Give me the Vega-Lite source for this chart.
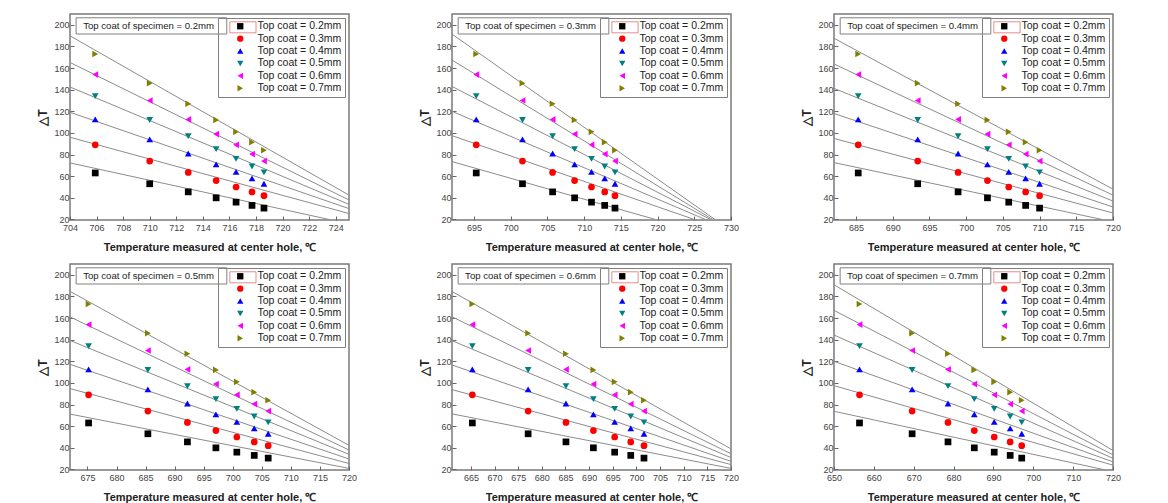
{
"$schema": "https://vega.github.io/schema/vega-lite/v6.json",
"padding": {"left": 36, "top": 13, "right": 5, "bottom": 5},
"background": "white",
"bounds": "flush",
"columns": 3,
"spacing": {"row": 44, "column": 103},
"datasets": {
"pts": [
{"p":1,"s":"Top coat = 0.2mm","T":705.9,"dT":63},{"p":1,"s":"Top coat = 0.2mm","T":710.0,"dT":53},{"p":1,"s":"Top coat = 0.2mm","T":712.9,"dT":45.5},{"p":1,"s":"Top coat = 0.2mm","T":715.0,"dT":40},{"p":1,"s":"Top coat = 0.2mm","T":716.5,"dT":36},{"p":1,"s":"Top coat = 0.2mm","T":717.7,"dT":33},{"p":1,"s":"Top coat = 0.2mm","T":718.6,"dT":30.5},
{"p":1,"s":"Top coat = 0.3mm","T":705.9,"dT":89},{"p":1,"s":"Top coat = 0.3mm","T":710.0,"dT":74},{"p":1,"s":"Top coat = 0.3mm","T":712.9,"dT":63.5},{"p":1,"s":"Top coat = 0.3mm","T":715.0,"dT":56},{"p":1,"s":"Top coat = 0.3mm","T":716.5,"dT":50},{"p":1,"s":"Top coat = 0.3mm","T":717.7,"dT":45.5},{"p":1,"s":"Top coat = 0.3mm","T":718.6,"dT":42},
{"p":1,"s":"Top coat = 0.4mm","T":705.9,"dT":112.5},{"p":1,"s":"Top coat = 0.4mm","T":710.0,"dT":94},{"p":1,"s":"Top coat = 0.4mm","T":712.9,"dT":81},{"p":1,"s":"Top coat = 0.4mm","T":715.0,"dT":71},{"p":1,"s":"Top coat = 0.4mm","T":716.5,"dT":64},{"p":1,"s":"Top coat = 0.4mm","T":717.7,"dT":58},{"p":1,"s":"Top coat = 0.4mm","T":718.6,"dT":53},
{"p":1,"s":"Top coat = 0.5mm","T":705.9,"dT":134},{"p":1,"s":"Top coat = 0.5mm","T":710.0,"dT":112},{"p":1,"s":"Top coat = 0.5mm","T":712.9,"dT":97},{"p":1,"s":"Top coat = 0.5mm","T":715.0,"dT":85},{"p":1,"s":"Top coat = 0.5mm","T":716.5,"dT":76},{"p":1,"s":"Top coat = 0.5mm","T":717.7,"dT":69},{"p":1,"s":"Top coat = 0.5mm","T":718.6,"dT":63.5},
{"p":1,"s":"Top coat = 0.6mm","T":705.9,"dT":154},{"p":1,"s":"Top coat = 0.6mm","T":710.0,"dT":130},{"p":1,"s":"Top coat = 0.6mm","T":712.9,"dT":112.5},{"p":1,"s":"Top coat = 0.6mm","T":715.0,"dT":99},{"p":1,"s":"Top coat = 0.6mm","T":716.5,"dT":89},{"p":1,"s":"Top coat = 0.6mm","T":717.7,"dT":80.5},{"p":1,"s":"Top coat = 0.6mm","T":718.6,"dT":74},
{"p":1,"s":"Top coat = 0.7mm","T":705.9,"dT":173},{"p":1,"s":"Top coat = 0.7mm","T":710.0,"dT":146},{"p":1,"s":"Top coat = 0.7mm","T":712.9,"dT":127},{"p":1,"s":"Top coat = 0.7mm","T":715.0,"dT":112},{"p":1,"s":"Top coat = 0.7mm","T":716.5,"dT":101},{"p":1,"s":"Top coat = 0.7mm","T":717.7,"dT":91.5},{"p":1,"s":"Top coat = 0.7mm","T":718.6,"dT":84},

{"p":2,"s":"Top coat = 0.2mm","T":695.3,"dT":63},{"p":2,"s":"Top coat = 0.2mm","T":701.6,"dT":53},{"p":2,"s":"Top coat = 0.2mm","T":705.7,"dT":45.5},{"p":2,"s":"Top coat = 0.2mm","T":708.7,"dT":40},{"p":2,"s":"Top coat = 0.2mm","T":711.0,"dT":36},{"p":2,"s":"Top coat = 0.2mm","T":712.8,"dT":33},{"p":2,"s":"Top coat = 0.2mm","T":714.2,"dT":30.5},
{"p":2,"s":"Top coat = 0.3mm","T":695.3,"dT":89},{"p":2,"s":"Top coat = 0.3mm","T":701.6,"dT":74},{"p":2,"s":"Top coat = 0.3mm","T":705.7,"dT":63.5},{"p":2,"s":"Top coat = 0.3mm","T":708.7,"dT":56},{"p":2,"s":"Top coat = 0.3mm","T":711.0,"dT":50},{"p":2,"s":"Top coat = 0.3mm","T":712.8,"dT":45.5},{"p":2,"s":"Top coat = 0.3mm","T":714.2,"dT":42},
{"p":2,"s":"Top coat = 0.4mm","T":695.3,"dT":112.5},{"p":2,"s":"Top coat = 0.4mm","T":701.6,"dT":94},{"p":2,"s":"Top coat = 0.4mm","T":705.7,"dT":81},{"p":2,"s":"Top coat = 0.4mm","T":708.7,"dT":71},{"p":2,"s":"Top coat = 0.4mm","T":711.0,"dT":64},{"p":2,"s":"Top coat = 0.4mm","T":712.8,"dT":58},{"p":2,"s":"Top coat = 0.4mm","T":714.2,"dT":53},
{"p":2,"s":"Top coat = 0.5mm","T":695.3,"dT":134},{"p":2,"s":"Top coat = 0.5mm","T":701.6,"dT":112},{"p":2,"s":"Top coat = 0.5mm","T":705.7,"dT":97},{"p":2,"s":"Top coat = 0.5mm","T":708.7,"dT":85},{"p":2,"s":"Top coat = 0.5mm","T":711.0,"dT":76},{"p":2,"s":"Top coat = 0.5mm","T":712.8,"dT":69},{"p":2,"s":"Top coat = 0.5mm","T":714.2,"dT":63.5},
{"p":2,"s":"Top coat = 0.6mm","T":695.3,"dT":154},{"p":2,"s":"Top coat = 0.6mm","T":701.6,"dT":130},{"p":2,"s":"Top coat = 0.6mm","T":705.7,"dT":112.5},{"p":2,"s":"Top coat = 0.6mm","T":708.7,"dT":99},{"p":2,"s":"Top coat = 0.6mm","T":711.0,"dT":89},{"p":2,"s":"Top coat = 0.6mm","T":712.8,"dT":80.5},{"p":2,"s":"Top coat = 0.6mm","T":714.2,"dT":74},
{"p":2,"s":"Top coat = 0.7mm","T":695.3,"dT":173},{"p":2,"s":"Top coat = 0.7mm","T":701.6,"dT":146},{"p":2,"s":"Top coat = 0.7mm","T":705.7,"dT":127},{"p":2,"s":"Top coat = 0.7mm","T":708.7,"dT":112},{"p":2,"s":"Top coat = 0.7mm","T":711.0,"dT":101},{"p":2,"s":"Top coat = 0.7mm","T":712.8,"dT":91.5},{"p":2,"s":"Top coat = 0.7mm","T":714.2,"dT":84},

{"p":3,"s":"Top coat = 0.2mm","T":685.3,"dT":63},{"p":3,"s":"Top coat = 0.2mm","T":693.4,"dT":53},{"p":3,"s":"Top coat = 0.2mm","T":698.9,"dT":45.5},{"p":3,"s":"Top coat = 0.2mm","T":702.9,"dT":40},{"p":3,"s":"Top coat = 0.2mm","T":705.8,"dT":36},{"p":3,"s":"Top coat = 0.2mm","T":708.1,"dT":33},{"p":3,"s":"Top coat = 0.2mm","T":710.0,"dT":30.5},
{"p":3,"s":"Top coat = 0.3mm","T":685.3,"dT":89},{"p":3,"s":"Top coat = 0.3mm","T":693.4,"dT":74},{"p":3,"s":"Top coat = 0.3mm","T":698.9,"dT":63.5},{"p":3,"s":"Top coat = 0.3mm","T":702.9,"dT":56},{"p":3,"s":"Top coat = 0.3mm","T":705.8,"dT":50},{"p":3,"s":"Top coat = 0.3mm","T":708.1,"dT":45.5},{"p":3,"s":"Top coat = 0.3mm","T":710.0,"dT":42},
{"p":3,"s":"Top coat = 0.4mm","T":685.3,"dT":112.5},{"p":3,"s":"Top coat = 0.4mm","T":693.4,"dT":94},{"p":3,"s":"Top coat = 0.4mm","T":698.9,"dT":81},{"p":3,"s":"Top coat = 0.4mm","T":702.9,"dT":71},{"p":3,"s":"Top coat = 0.4mm","T":705.8,"dT":64},{"p":3,"s":"Top coat = 0.4mm","T":708.1,"dT":58},{"p":3,"s":"Top coat = 0.4mm","T":710.0,"dT":53},
{"p":3,"s":"Top coat = 0.5mm","T":685.3,"dT":134},{"p":3,"s":"Top coat = 0.5mm","T":693.4,"dT":112},{"p":3,"s":"Top coat = 0.5mm","T":698.9,"dT":97},{"p":3,"s":"Top coat = 0.5mm","T":702.9,"dT":85},{"p":3,"s":"Top coat = 0.5mm","T":705.8,"dT":76},{"p":3,"s":"Top coat = 0.5mm","T":708.1,"dT":69},{"p":3,"s":"Top coat = 0.5mm","T":710.0,"dT":63.5},
{"p":3,"s":"Top coat = 0.6mm","T":685.3,"dT":154},{"p":3,"s":"Top coat = 0.6mm","T":693.4,"dT":130},{"p":3,"s":"Top coat = 0.6mm","T":698.9,"dT":112.5},{"p":3,"s":"Top coat = 0.6mm","T":702.9,"dT":99},{"p":3,"s":"Top coat = 0.6mm","T":705.8,"dT":89},{"p":3,"s":"Top coat = 0.6mm","T":708.1,"dT":80.5},{"p":3,"s":"Top coat = 0.6mm","T":710.0,"dT":74},
{"p":3,"s":"Top coat = 0.7mm","T":685.3,"dT":173},{"p":3,"s":"Top coat = 0.7mm","T":693.4,"dT":146},{"p":3,"s":"Top coat = 0.7mm","T":698.9,"dT":127},{"p":3,"s":"Top coat = 0.7mm","T":702.9,"dT":112},{"p":3,"s":"Top coat = 0.7mm","T":705.8,"dT":101},{"p":3,"s":"Top coat = 0.7mm","T":708.1,"dT":91.5},{"p":3,"s":"Top coat = 0.7mm","T":710.0,"dT":84},

{"p":4,"s":"Top coat = 0.2mm","T":675.2,"dT":63},{"p":4,"s":"Top coat = 0.2mm","T":685.4,"dT":53},{"p":4,"s":"Top coat = 0.2mm","T":692.2,"dT":45.5},{"p":4,"s":"Top coat = 0.2mm","T":697.1,"dT":40},{"p":4,"s":"Top coat = 0.2mm","T":700.7,"dT":36},{"p":4,"s":"Top coat = 0.2mm","T":703.7,"dT":33},{"p":4,"s":"Top coat = 0.2mm","T":706.1,"dT":30.5},
{"p":4,"s":"Top coat = 0.3mm","T":675.2,"dT":89},{"p":4,"s":"Top coat = 0.3mm","T":685.4,"dT":74},{"p":4,"s":"Top coat = 0.3mm","T":692.2,"dT":63.5},{"p":4,"s":"Top coat = 0.3mm","T":697.1,"dT":56},{"p":4,"s":"Top coat = 0.3mm","T":700.7,"dT":50},{"p":4,"s":"Top coat = 0.3mm","T":703.7,"dT":45.5},{"p":4,"s":"Top coat = 0.3mm","T":706.1,"dT":42},
{"p":4,"s":"Top coat = 0.4mm","T":675.2,"dT":112.5},{"p":4,"s":"Top coat = 0.4mm","T":685.4,"dT":94},{"p":4,"s":"Top coat = 0.4mm","T":692.2,"dT":81},{"p":4,"s":"Top coat = 0.4mm","T":697.1,"dT":71},{"p":4,"s":"Top coat = 0.4mm","T":700.7,"dT":64},{"p":4,"s":"Top coat = 0.4mm","T":703.7,"dT":58},{"p":4,"s":"Top coat = 0.4mm","T":706.1,"dT":53},
{"p":4,"s":"Top coat = 0.5mm","T":675.2,"dT":134},{"p":4,"s":"Top coat = 0.5mm","T":685.4,"dT":112},{"p":4,"s":"Top coat = 0.5mm","T":692.2,"dT":97},{"p":4,"s":"Top coat = 0.5mm","T":697.1,"dT":85},{"p":4,"s":"Top coat = 0.5mm","T":700.7,"dT":76},{"p":4,"s":"Top coat = 0.5mm","T":703.7,"dT":69},{"p":4,"s":"Top coat = 0.5mm","T":706.1,"dT":63.5},
{"p":4,"s":"Top coat = 0.6mm","T":675.2,"dT":154},{"p":4,"s":"Top coat = 0.6mm","T":685.4,"dT":130},{"p":4,"s":"Top coat = 0.6mm","T":692.2,"dT":112.5},{"p":4,"s":"Top coat = 0.6mm","T":697.1,"dT":99},{"p":4,"s":"Top coat = 0.6mm","T":700.7,"dT":89},{"p":4,"s":"Top coat = 0.6mm","T":703.7,"dT":80.5},{"p":4,"s":"Top coat = 0.6mm","T":706.1,"dT":74},
{"p":4,"s":"Top coat = 0.7mm","T":675.2,"dT":173},{"p":4,"s":"Top coat = 0.7mm","T":685.4,"dT":146},{"p":4,"s":"Top coat = 0.7mm","T":692.2,"dT":127},{"p":4,"s":"Top coat = 0.7mm","T":697.1,"dT":112},{"p":4,"s":"Top coat = 0.7mm","T":700.7,"dT":101},{"p":4,"s":"Top coat = 0.7mm","T":703.7,"dT":91.5},{"p":4,"s":"Top coat = 0.7mm","T":706.1,"dT":84},

{"p":5,"s":"Top coat = 0.2mm","T":665.3,"dT":63},{"p":5,"s":"Top coat = 0.2mm","T":677.1,"dT":53},{"p":5,"s":"Top coat = 0.2mm","T":685.1,"dT":45.5},{"p":5,"s":"Top coat = 0.2mm","T":690.9,"dT":40},{"p":5,"s":"Top coat = 0.2mm","T":695.4,"dT":36},{"p":5,"s":"Top coat = 0.2mm","T":698.8,"dT":33},{"p":5,"s":"Top coat = 0.2mm","T":701.6,"dT":30.5},
{"p":5,"s":"Top coat = 0.3mm","T":665.3,"dT":89},{"p":5,"s":"Top coat = 0.3mm","T":677.1,"dT":74},{"p":5,"s":"Top coat = 0.3mm","T":685.1,"dT":63.5},{"p":5,"s":"Top coat = 0.3mm","T":690.9,"dT":56},{"p":5,"s":"Top coat = 0.3mm","T":695.4,"dT":50},{"p":5,"s":"Top coat = 0.3mm","T":698.8,"dT":45.5},{"p":5,"s":"Top coat = 0.3mm","T":701.6,"dT":42},
{"p":5,"s":"Top coat = 0.4mm","T":665.3,"dT":112.5},{"p":5,"s":"Top coat = 0.4mm","T":677.1,"dT":94},{"p":5,"s":"Top coat = 0.4mm","T":685.1,"dT":81},{"p":5,"s":"Top coat = 0.4mm","T":690.9,"dT":71},{"p":5,"s":"Top coat = 0.4mm","T":695.4,"dT":64},{"p":5,"s":"Top coat = 0.4mm","T":698.8,"dT":58},{"p":5,"s":"Top coat = 0.4mm","T":701.6,"dT":53},
{"p":5,"s":"Top coat = 0.5mm","T":665.3,"dT":134},{"p":5,"s":"Top coat = 0.5mm","T":677.1,"dT":112},{"p":5,"s":"Top coat = 0.5mm","T":685.1,"dT":97},{"p":5,"s":"Top coat = 0.5mm","T":690.9,"dT":85},{"p":5,"s":"Top coat = 0.5mm","T":695.4,"dT":76},{"p":5,"s":"Top coat = 0.5mm","T":698.8,"dT":69},{"p":5,"s":"Top coat = 0.5mm","T":701.6,"dT":63.5},
{"p":5,"s":"Top coat = 0.6mm","T":665.3,"dT":154},{"p":5,"s":"Top coat = 0.6mm","T":677.1,"dT":130},{"p":5,"s":"Top coat = 0.6mm","T":685.1,"dT":112.5},{"p":5,"s":"Top coat = 0.6mm","T":690.9,"dT":99},{"p":5,"s":"Top coat = 0.6mm","T":695.4,"dT":89},{"p":5,"s":"Top coat = 0.6mm","T":698.8,"dT":80.5},{"p":5,"s":"Top coat = 0.6mm","T":701.6,"dT":74},
{"p":5,"s":"Top coat = 0.7mm","T":665.3,"dT":173},{"p":5,"s":"Top coat = 0.7mm","T":677.1,"dT":146},{"p":5,"s":"Top coat = 0.7mm","T":685.1,"dT":127},{"p":5,"s":"Top coat = 0.7mm","T":690.9,"dT":112},{"p":5,"s":"Top coat = 0.7mm","T":695.4,"dT":101},{"p":5,"s":"Top coat = 0.7mm","T":698.8,"dT":91.5},{"p":5,"s":"Top coat = 0.7mm","T":701.6,"dT":84},

{"p":6,"s":"Top coat = 0.2mm","T":656.4,"dT":63},{"p":6,"s":"Top coat = 0.2mm","T":669.6,"dT":53},{"p":6,"s":"Top coat = 0.2mm","T":678.6,"dT":45.5},{"p":6,"s":"Top coat = 0.2mm","T":685.2,"dT":40},{"p":6,"s":"Top coat = 0.2mm","T":690.2,"dT":36},{"p":6,"s":"Top coat = 0.2mm","T":694.2,"dT":33},{"p":6,"s":"Top coat = 0.2mm","T":697.1,"dT":30.5},
{"p":6,"s":"Top coat = 0.3mm","T":656.4,"dT":89},{"p":6,"s":"Top coat = 0.3mm","T":669.6,"dT":74},{"p":6,"s":"Top coat = 0.3mm","T":678.6,"dT":63.5},{"p":6,"s":"Top coat = 0.3mm","T":685.2,"dT":56},{"p":6,"s":"Top coat = 0.3mm","T":690.2,"dT":50},{"p":6,"s":"Top coat = 0.3mm","T":694.2,"dT":45.5},{"p":6,"s":"Top coat = 0.3mm","T":697.1,"dT":42},
{"p":6,"s":"Top coat = 0.4mm","T":656.4,"dT":112.5},{"p":6,"s":"Top coat = 0.4mm","T":669.6,"dT":94},{"p":6,"s":"Top coat = 0.4mm","T":678.6,"dT":81},{"p":6,"s":"Top coat = 0.4mm","T":685.2,"dT":71},{"p":6,"s":"Top coat = 0.4mm","T":690.2,"dT":64},{"p":6,"s":"Top coat = 0.4mm","T":694.2,"dT":58},{"p":6,"s":"Top coat = 0.4mm","T":697.1,"dT":53},
{"p":6,"s":"Top coat = 0.5mm","T":656.4,"dT":134},{"p":6,"s":"Top coat = 0.5mm","T":669.6,"dT":112},{"p":6,"s":"Top coat = 0.5mm","T":678.6,"dT":97},{"p":6,"s":"Top coat = 0.5mm","T":685.2,"dT":85},{"p":6,"s":"Top coat = 0.5mm","T":690.2,"dT":76},{"p":6,"s":"Top coat = 0.5mm","T":694.2,"dT":69},{"p":6,"s":"Top coat = 0.5mm","T":697.1,"dT":63.5},
{"p":6,"s":"Top coat = 0.6mm","T":656.4,"dT":154},{"p":6,"s":"Top coat = 0.6mm","T":669.6,"dT":130},{"p":6,"s":"Top coat = 0.6mm","T":678.6,"dT":112.5},{"p":6,"s":"Top coat = 0.6mm","T":685.2,"dT":99},{"p":6,"s":"Top coat = 0.6mm","T":690.2,"dT":89},{"p":6,"s":"Top coat = 0.6mm","T":694.2,"dT":80.5},{"p":6,"s":"Top coat = 0.6mm","T":697.1,"dT":74},
{"p":6,"s":"Top coat = 0.7mm","T":656.4,"dT":173},{"p":6,"s":"Top coat = 0.7mm","T":669.6,"dT":146},{"p":6,"s":"Top coat = 0.7mm","T":678.6,"dT":127},{"p":6,"s":"Top coat = 0.7mm","T":685.2,"dT":112},{"p":6,"s":"Top coat = 0.7mm","T":690.2,"dT":101},{"p":6,"s":"Top coat = 0.7mm","T":694.2,"dT":91.5},{"p":6,"s":"Top coat = 0.7mm","T":697.1,"dT":84}
],
"fit": [
{"p":1,"s":"0.2","T":704,"dT":72.3},{"p":1,"s":"0.2","T":723.5,"dT":20},
{"p":1,"s":"0.3","T":704,"dT":96},{"p":1,"s":"0.3","T":725,"dT":25.5},
{"p":1,"s":"0.4","T":704,"dT":119.1},{"p":1,"s":"0.4","T":725,"dT":30},
{"p":1,"s":"0.5","T":704,"dT":142.5},{"p":1,"s":"0.5","T":725,"dT":34},
{"p":1,"s":"0.6","T":704,"dT":165.2},{"p":1,"s":"0.6","T":725,"dT":38},
{"p":1,"s":"0.7","T":704,"dT":189.8},{"p":1,"s":"0.7","T":725,"dT":42.5},
{"p":2,"s":"0.2","T":692,"dT":73.5},{"p":2,"s":"0.2","T":719.7,"dT":20},
{"p":2,"s":"0.3","T":692,"dT":97.5},{"p":2,"s":"0.3","T":725,"dT":20},
{"p":2,"s":"0.4","T":692,"dT":120},{"p":2,"s":"0.4","T":726.5,"dT":20},
{"p":2,"s":"0.5","T":692,"dT":143},{"p":2,"s":"0.5","T":727.2,"dT":20},
{"p":2,"s":"0.6","T":692,"dT":167.4},{"p":2,"s":"0.6","T":727.5,"dT":20},
{"p":2,"s":"0.7","T":692,"dT":191.4},{"p":2,"s":"0.7","T":727.8,"dT":20},
{"p":3,"s":"0.2","T":682,"dT":72.6},{"p":3,"s":"0.2","T":718.5,"dT":20},
{"p":3,"s":"0.3","T":682,"dT":94.9},{"p":3,"s":"0.3","T":720,"dT":26},
{"p":3,"s":"0.4","T":682,"dT":118},{"p":3,"s":"0.4","T":720,"dT":31.5},
{"p":3,"s":"0.5","T":682,"dT":141.2},{"p":3,"s":"0.5","T":720,"dT":37},
{"p":3,"s":"0.6","T":682,"dT":163.8},{"p":3,"s":"0.6","T":720,"dT":42.5},
{"p":3,"s":"0.7","T":682,"dT":187.6},{"p":3,"s":"0.7","T":720,"dT":48},
{"p":4,"s":"0.2","T":672,"dT":71.2},{"p":4,"s":"0.2","T":720,"dT":21},
{"p":4,"s":"0.3","T":672,"dT":94.8},{"p":4,"s":"0.3","T":720,"dT":25.5},
{"p":4,"s":"0.4","T":672,"dT":117.2},{"p":4,"s":"0.4","T":720,"dT":29.7},
{"p":4,"s":"0.5","T":672,"dT":139.3},{"p":4,"s":"0.5","T":720,"dT":34},
{"p":4,"s":"0.6","T":672,"dT":161.1},{"p":4,"s":"0.6","T":720,"dT":38},
{"p":4,"s":"0.7","T":672,"dT":184.7},{"p":4,"s":"0.7","T":720,"dT":42.3},
{"p":5,"s":"0.2","T":661,"dT":71.4},{"p":5,"s":"0.2","T":720,"dT":21},
{"p":5,"s":"0.3","T":661,"dT":93.8},{"p":5,"s":"0.3","T":720,"dT":24.5},
{"p":5,"s":"0.4","T":661,"dT":116.6},{"p":5,"s":"0.4","T":720,"dT":27.5},
{"p":5,"s":"0.5","T":661,"dT":139.1},{"p":5,"s":"0.5","T":720,"dT":31},
{"p":5,"s":"0.6","T":661,"dT":161.2},{"p":5,"s":"0.6","T":720,"dT":34.5},
{"p":5,"s":"0.7","T":661,"dT":184.6},{"p":5,"s":"0.7","T":720,"dT":39},
{"p":6,"s":"0.2","T":650,"dT":73.8},{"p":6,"s":"0.2","T":717.5,"dT":20},
{"p":6,"s":"0.3","T":650,"dT":97.5},{"p":6,"s":"0.3","T":720,"dT":24},
{"p":6,"s":"0.4","T":650,"dT":120},{"p":6,"s":"0.4","T":720,"dT":27},
{"p":6,"s":"0.5","T":650,"dT":144.3},{"p":6,"s":"0.5","T":720,"dT":30.3},
{"p":6,"s":"0.6","T":650,"dT":167.1},{"p":6,"s":"0.6","T":720,"dT":33.5},
{"p":6,"s":"0.7","T":650,"dT":190.8},{"p":6,"s":"0.7","T":720,"dT":37.5}
]
},
"concat": [
{"width": 279, "height": 206, "layer": [
 {"data": {"name": "fit"}, "transform": [{"filter": "datum.p == 1"}], "mark": {"type": "line", "clip": true, "color": "#8c8c8c", "strokeWidth": 1},
  "encoding": {"x": {"field": "T", "type": "quantitative", "scale": {"domain": [704, 725], "nice": false, "zero": false}, "axis": {"values": [704,706,708,710,712,714,716,718,720,722,724], "format": "d", "tickCount": 40, "labelOverlap": false, "title": "Temperature measured at center hole, ℃"}},
   "y": {"field": "dT", "type": "quantitative", "scale": {"domain": [19.5, 210], "nice": false, "zero": false}, "axis": {"values": [20,40,60,80,100,120,140,160,180,200], "format": "d", "tickCount": 40, "labelOverlap": false, "title": "△T"}},
   "detail": {"field": "s"}}},
 {"data": {"values": [{"t": "Top coat of specimen = 0.2mm"}]}, "mark": {"type": "rect", "fill": null, "stroke": "#e07070", "strokeWidth": 0.8},
  "encoding": {"x": {"datum": 716.03}, "x2": {"datum": 718.0}, "y": {"datum": 202.8}, "y2": {"datum": 192.6}}},
 {"data": {"name": "pts"}, "transform": [{"filter": "datum.p == 1"}], "mark": {"type": "point", "filled": true, "opacity": 1, "size": 45},
  "encoding": {"x": {"field": "T", "type": "quantitative"}, "y": {"field": "dT", "type": "quantitative"},
   "color": {"field": "s", "type": "nominal", "scale": {"domain": ["Top coat = 0.2mm","Top coat = 0.3mm","Top coat = 0.4mm","Top coat = 0.5mm","Top coat = 0.6mm","Top coat = 0.7mm"], "range": ["#000000","#FF0000","#0000FF","#008080","#FF00FF","#808000"]}},
   "shape": {"field": "s", "type": "nominal", "scale": {"domain": ["Top coat = 0.2mm","Top coat = 0.3mm","Top coat = 0.4mm","Top coat = 0.5mm","Top coat = 0.6mm","Top coat = 0.7mm"], "range": ["square","circle","triangle-up","triangle-down","triangle-left","triangle-right"]}}}},
 {"data": {"values": [{"t": "Top coat of specimen = 0.2mm"}]}, "mark": {"type": "rect", "fill": "white", "stroke": "#808080", "strokeWidth": 1},
  "encoding": {"x": {"datum": 704.46}, "x2": {"datum": 715.8}, "y": {"datum": 206.5}, "y2": {"datum": 191.5}}},
 {"data": {"values": [{"t": "Top coat of specimen = 0.2mm"}]}, "mark": {"type": "text", "align": "left", "baseline": "middle", "fontSize": 9.6, "font": "Liberation Sans", "color": "#222"},
  "encoding": {"x": {"datum": 704.99}, "y": {"datum": 199}, "text": {"field": "t"}}}
]},
{"width": 279, "height": 206, "layer": [
 {"data": {"name": "fit"}, "transform": [{"filter": "datum.p == 2"}], "mark": {"type": "line", "clip": true, "color": "#8c8c8c", "strokeWidth": 1},
  "encoding": {"x": {"field": "T", "type": "quantitative", "scale": {"domain": [692, 730], "nice": false, "zero": false}, "axis": {"values": [695,700,705,710,715,720,725,730], "format": "d", "tickCount": 40, "labelOverlap": false, "title": "Temperature measured at center hole, ℃"}},
   "y": {"field": "dT", "type": "quantitative", "scale": {"domain": [19.5, 210], "nice": false, "zero": false}, "axis": {"values": [20,40,60,80,100,120,140,160,180,200], "format": "d", "tickCount": 40, "labelOverlap": false, "title": "△T"}},
   "detail": {"field": "s"}}},
 {"data": {"values": [{"t": "Top coat of specimen = 0.3mm"}]}, "mark": {"type": "rect", "fill": null, "stroke": "#e07070", "strokeWidth": 0.8},
  "encoding": {"x": {"datum": 713.77}, "x2": {"datum": 717.35}, "y": {"datum": 202.8}, "y2": {"datum": 192.6}}},
 {"data": {"name": "pts"}, "transform": [{"filter": "datum.p == 2"}], "mark": {"type": "point", "filled": true, "opacity": 1, "size": 45},
  "encoding": {"x": {"field": "T", "type": "quantitative"}, "y": {"field": "dT", "type": "quantitative"},
   "color": {"field": "s", "type": "nominal", "scale": {"domain": ["Top coat = 0.2mm","Top coat = 0.3mm","Top coat = 0.4mm","Top coat = 0.5mm","Top coat = 0.6mm","Top coat = 0.7mm"], "range": ["#000000","#FF0000","#0000FF","#008080","#FF00FF","#808000"]}},
   "shape": {"field": "s", "type": "nominal", "scale": {"domain": ["Top coat = 0.2mm","Top coat = 0.3mm","Top coat = 0.4mm","Top coat = 0.5mm","Top coat = 0.6mm","Top coat = 0.7mm"], "range": ["square","circle","triangle-up","triangle-down","triangle-left","triangle-right"]}}}},
 {"data": {"values": [{"t": "Top coat of specimen = 0.3mm"}]}, "mark": {"type": "rect", "fill": "white", "stroke": "#808080", "strokeWidth": 1},
  "encoding": {"x": {"datum": 692.84}, "x2": {"datum": 713.36}, "y": {"datum": 206.5}, "y2": {"datum": 191.5}}},
 {"data": {"values": [{"t": "Top coat of specimen = 0.3mm"}]}, "mark": {"type": "text", "align": "left", "baseline": "middle", "fontSize": 9.6, "font": "Liberation Sans", "color": "#222"},
  "encoding": {"x": {"datum": 693.79}, "y": {"datum": 199}, "text": {"field": "t"}}}
]},
{"width": 279, "height": 206, "layer": [
 {"data": {"name": "fit"}, "transform": [{"filter": "datum.p == 3"}], "mark": {"type": "line", "clip": true, "color": "#8c8c8c", "strokeWidth": 1},
  "encoding": {"x": {"field": "T", "type": "quantitative", "scale": {"domain": [682, 720], "nice": false, "zero": false}, "axis": {"values": [685,690,695,700,705,710,715,720], "format": "d", "tickCount": 40, "labelOverlap": false, "title": "Temperature measured at center hole, ℃"}},
   "y": {"field": "dT", "type": "quantitative", "scale": {"domain": [19.5, 210], "nice": false, "zero": false}, "axis": {"values": [20,40,60,80,100,120,140,160,180,200], "format": "d", "tickCount": 40, "labelOverlap": false, "title": "△T"}},
   "detail": {"field": "s"}}},
 {"data": {"values": [{"t": "Top coat of specimen = 0.4mm"}]}, "mark": {"type": "rect", "fill": null, "stroke": "#e07070", "strokeWidth": 0.8},
  "encoding": {"x": {"datum": 703.77}, "x2": {"datum": 707.35}, "y": {"datum": 202.8}, "y2": {"datum": 192.6}}},
 {"data": {"name": "pts"}, "transform": [{"filter": "datum.p == 3"}], "mark": {"type": "point", "filled": true, "opacity": 1, "size": 45},
  "encoding": {"x": {"field": "T", "type": "quantitative"}, "y": {"field": "dT", "type": "quantitative"},
   "color": {"field": "s", "type": "nominal", "scale": {"domain": ["Top coat = 0.2mm","Top coat = 0.3mm","Top coat = 0.4mm","Top coat = 0.5mm","Top coat = 0.6mm","Top coat = 0.7mm"], "range": ["#000000","#FF0000","#0000FF","#008080","#FF00FF","#808000"]}},
   "shape": {"field": "s", "type": "nominal", "scale": {"domain": ["Top coat = 0.2mm","Top coat = 0.3mm","Top coat = 0.4mm","Top coat = 0.5mm","Top coat = 0.6mm","Top coat = 0.7mm"], "range": ["square","circle","triangle-up","triangle-down","triangle-left","triangle-right"]}}}},
 {"data": {"values": [{"t": "Top coat of specimen = 0.4mm"}]}, "mark": {"type": "rect", "fill": "white", "stroke": "#808080", "strokeWidth": 1},
  "encoding": {"x": {"datum": 682.84}, "x2": {"datum": 703.36}, "y": {"datum": 206.5}, "y2": {"datum": 191.5}}},
 {"data": {"values": [{"t": "Top coat of specimen = 0.4mm"}]}, "mark": {"type": "text", "align": "left", "baseline": "middle", "fontSize": 9.6, "font": "Liberation Sans", "color": "#222"},
  "encoding": {"x": {"datum": 683.79}, "y": {"datum": 199}, "text": {"field": "t"}}}
]},
{"width": 279, "height": 206, "layer": [
 {"data": {"name": "fit"}, "transform": [{"filter": "datum.p == 4"}], "mark": {"type": "line", "clip": true, "color": "#8c8c8c", "strokeWidth": 1},
  "encoding": {"x": {"field": "T", "type": "quantitative", "scale": {"domain": [672, 720], "nice": false, "zero": false}, "axis": {"values": [675,680,685,690,695,700,705,710,715,720], "format": "d", "tickCount": 40, "labelOverlap": false, "title": "Temperature measured at center hole, ℃"}},
   "y": {"field": "dT", "type": "quantitative", "scale": {"domain": [19.5, 210], "nice": false, "zero": false}, "axis": {"values": [20,40,60,80,100,120,140,160,180,200], "format": "d", "tickCount": 40, "labelOverlap": false, "title": "△T"}},
   "detail": {"field": "s"}}},
 {"data": {"values": [{"t": "Top coat of specimen = 0.5mm"}]}, "mark": {"type": "rect", "fill": null, "stroke": "#e07070", "strokeWidth": 0.8},
  "encoding": {"x": {"datum": 699.5}, "x2": {"datum": 704.0}, "y": {"datum": 202.8}, "y2": {"datum": 192.6}}},
 {"data": {"name": "pts"}, "transform": [{"filter": "datum.p == 4"}], "mark": {"type": "point", "filled": true, "opacity": 1, "size": 45},
  "encoding": {"x": {"field": "T", "type": "quantitative"}, "y": {"field": "dT", "type": "quantitative"},
   "color": {"field": "s", "type": "nominal", "scale": {"domain": ["Top coat = 0.2mm","Top coat = 0.3mm","Top coat = 0.4mm","Top coat = 0.5mm","Top coat = 0.6mm","Top coat = 0.7mm"], "range": ["#000000","#FF0000","#0000FF","#008080","#FF00FF","#808000"]}},
   "shape": {"field": "s", "type": "nominal", "scale": {"domain": ["Top coat = 0.2mm","Top coat = 0.3mm","Top coat = 0.4mm","Top coat = 0.5mm","Top coat = 0.6mm","Top coat = 0.7mm"], "range": ["square","circle","triangle-up","triangle-down","triangle-left","triangle-right"]}}}},
 {"data": {"values": [{"t": "Top coat of specimen = 0.5mm"}]}, "mark": {"type": "rect", "fill": "white", "stroke": "#808080", "strokeWidth": 1},
  "encoding": {"x": {"datum": 673.06}, "x2": {"datum": 698.98}, "y": {"datum": 206.5}, "y2": {"datum": 191.5}}},
 {"data": {"values": [{"t": "Top coat of specimen = 0.5mm"}]}, "mark": {"type": "text", "align": "left", "baseline": "middle", "fontSize": 9.6, "font": "Liberation Sans", "color": "#222"},
  "encoding": {"x": {"datum": 674.26}, "y": {"datum": 199}, "text": {"field": "t"}}}
]},
{"width": 279, "height": 206, "layer": [
 {"data": {"name": "fit"}, "transform": [{"filter": "datum.p == 5"}], "mark": {"type": "line", "clip": true, "color": "#8c8c8c", "strokeWidth": 1},
  "encoding": {"x": {"field": "T", "type": "quantitative", "scale": {"domain": [661, 720], "nice": false, "zero": false}, "axis": {"values": [665,670,675,680,685,690,695,700,705,710,715,720], "format": "d", "tickCount": 40, "labelOverlap": false, "title": "Temperature measured at center hole, ℃"}},
   "y": {"field": "dT", "type": "quantitative", "scale": {"domain": [19.5, 210], "nice": false, "zero": false}, "axis": {"values": [20,40,60,80,100,120,140,160,180,200], "format": "d", "tickCount": 40, "labelOverlap": false, "title": "△T"}},
   "detail": {"field": "s"}}},
 {"data": {"values": [{"t": "Top coat of specimen = 0.6mm"}]}, "mark": {"type": "rect", "fill": null, "stroke": "#e07070", "strokeWidth": 0.8},
  "encoding": {"x": {"datum": 694.8}, "x2": {"datum": 700.35}, "y": {"datum": 202.8}, "y2": {"datum": 192.6}}},
 {"data": {"name": "pts"}, "transform": [{"filter": "datum.p == 5"}], "mark": {"type": "point", "filled": true, "opacity": 1, "size": 45},
  "encoding": {"x": {"field": "T", "type": "quantitative"}, "y": {"field": "dT", "type": "quantitative"},
   "color": {"field": "s", "type": "nominal", "scale": {"domain": ["Top coat = 0.2mm","Top coat = 0.3mm","Top coat = 0.4mm","Top coat = 0.5mm","Top coat = 0.6mm","Top coat = 0.7mm"], "range": ["#000000","#FF0000","#0000FF","#008080","#FF00FF","#808000"]}},
   "shape": {"field": "s", "type": "nominal", "scale": {"domain": ["Top coat = 0.2mm","Top coat = 0.3mm","Top coat = 0.4mm","Top coat = 0.5mm","Top coat = 0.6mm","Top coat = 0.7mm"], "range": ["square","circle","triangle-up","triangle-down","triangle-left","triangle-right"]}}}},
 {"data": {"values": [{"t": "Top coat of specimen = 0.6mm"}]}, "mark": {"type": "rect", "fill": "white", "stroke": "#808080", "strokeWidth": 1},
  "encoding": {"x": {"datum": 662.3}, "x2": {"datum": 694.16}, "y": {"datum": 206.5}, "y2": {"datum": 191.5}}},
 {"data": {"values": [{"t": "Top coat of specimen = 0.6mm"}]}, "mark": {"type": "text", "align": "left", "baseline": "middle", "fontSize": 9.6, "font": "Liberation Sans", "color": "#222"},
  "encoding": {"x": {"datum": 663.77}, "y": {"datum": 199}, "text": {"field": "t"}}}
]},
{"width": 279, "height": 206, "layer": [
 {"data": {"name": "fit"}, "transform": [{"filter": "datum.p == 6"}], "mark": {"type": "line", "clip": true, "color": "#8c8c8c", "strokeWidth": 1},
  "encoding": {"x": {"field": "T", "type": "quantitative", "scale": {"domain": [650, 720], "nice": false, "zero": false}, "axis": {"values": [650,660,670,680,690,700,710,720], "format": "d", "tickCount": 40, "labelOverlap": false, "title": "Temperature measured at center hole, ℃"}},
   "y": {"field": "dT", "type": "quantitative", "scale": {"domain": [19.5, 210], "nice": false, "zero": false}, "axis": {"values": [20,40,60,80,100,120,140,160,180,200], "format": "d", "tickCount": 40, "labelOverlap": false, "title": "△T"}},
   "detail": {"field": "s"}}},
 {"data": {"values": [{"t": "Top coat of specimen = 0.7mm"}]}, "mark": {"type": "rect", "fill": null, "stroke": "#e07070", "strokeWidth": 0.8},
  "encoding": {"x": {"datum": 690.1}, "x2": {"datum": 696.7}, "y": {"datum": 202.8}, "y2": {"datum": 192.6}}},
 {"data": {"name": "pts"}, "transform": [{"filter": "datum.p == 6"}], "mark": {"type": "point", "filled": true, "opacity": 1, "size": 45},
  "encoding": {"x": {"field": "T", "type": "quantitative"}, "y": {"field": "dT", "type": "quantitative"},
   "color": {"field": "s", "type": "nominal", "scale": {"domain": ["Top coat = 0.2mm","Top coat = 0.3mm","Top coat = 0.4mm","Top coat = 0.5mm","Top coat = 0.6mm","Top coat = 0.7mm"], "range": ["#000000","#FF0000","#0000FF","#008080","#FF00FF","#808000"]}},
   "shape": {"field": "s", "type": "nominal", "scale": {"domain": ["Top coat = 0.2mm","Top coat = 0.3mm","Top coat = 0.4mm","Top coat = 0.5mm","Top coat = 0.6mm","Top coat = 0.7mm"], "range": ["square","circle","triangle-up","triangle-down","triangle-left","triangle-right"]}}}},
 {"data": {"values": [{"t": "Top coat of specimen = 0.7mm"}]}, "mark": {"type": "rect", "fill": "white", "stroke": "#808080", "strokeWidth": 1},
  "encoding": {"x": {"datum": 651.54}, "x2": {"datum": 689.34}, "y": {"datum": 206.5}, "y2": {"datum": 191.5}}},
 {"data": {"values": [{"t": "Top coat of specimen = 0.7mm"}]}, "mark": {"type": "text", "align": "left", "baseline": "middle", "fontSize": 9.6, "font": "Liberation Sans", "color": "#222"},
  "encoding": {"x": {"datum": 653.29}, "y": {"datum": 199}, "text": {"field": "t"}}}
]}
],
"resolve": {"scale": {"x": "independent", "y": "independent", "color": "independent", "shape": "independent"}, "legend": {"color": "independent", "shape": "independent"}},
"config": {
 "view": {"stroke": "#7a7a7a", "strokeWidth": 1.5},
 "axis": {"labelFont": "Liberation Sans", "labelFontSize": 9, "labelColor": "#444", "tickSize": -4, "tickColor": "#666", "domain": false, "grid": false, "titleFont": "Liberation Sans", "titleFontWeight": "bold", "titleColor": "#222", "labelOverlap": false, "labelBound": false, "labelFlush": false},
 "axisX": {"titleFontSize": 11, "labelPadding": 7, "titlePadding": 9},
 "axisY": {"titleFontSize": 12, "labelPadding": 5, "titlePadding": 4},
 "legend": {"orient": "top-right", "offset": 4, "title": null, "strokeColor": "#808080", "fillColor": null, "padding": 3, "labelFont": "Liberation Sans", "labelFontSize": 10.5, "labelColor": "#222", "symbolSize": 40, "symbolOffset": 14, "labelOffset": 12, "rowPadding": 1.4, "symbolStrokeWidth": 0}
}
}
